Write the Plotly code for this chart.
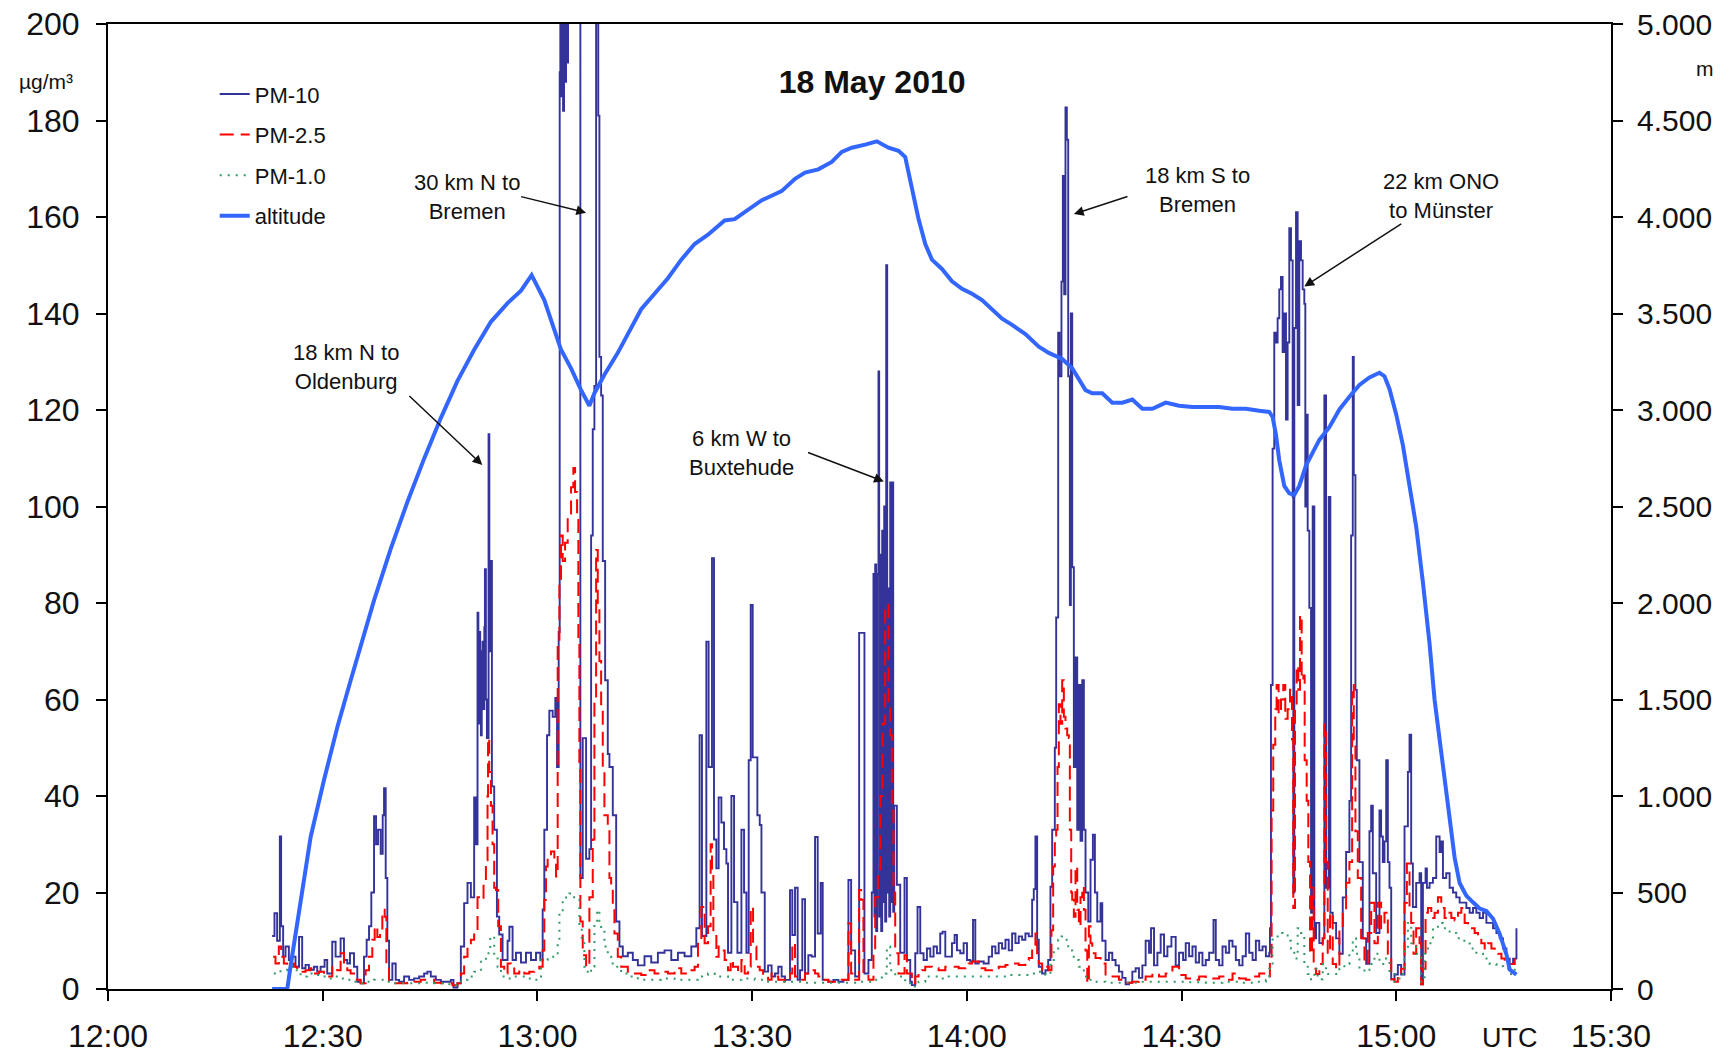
import numpy as np
import pandas as pd
import plotly.graph_objects as go

BASE = pd.Timestamp("2010-05-18 12:00:00")

# ---------------- data (minutes after 12:00 UTC, value) ----------------
pm10 = [
 (22.93, 11), (23.26, 15.7), (23.63, 10), (24.01, 31.6), (24.19, 13), (24.47, 6.7), (24.8, 8.8),
 (25.27, 6), (25.73, 6.7), (26.2, 4.6), (26.69, 10.8), (27.13, 4.3), (27.6, 5), (28.07, 4),
 (28.77, 4.6), (29.23, 3.6), (29.7, 4.6), (30.26, 6), (30.63, 3.2), (31.33, 9.8), (31.8, 6.7),
 (32.5, 10.5), (32.97, 6), (33.43, 5.3), (33.81, 7.4), (34.37, 4.6), (34.83, 1.5), (35.3, 1.2),
 (35.77, 6.7), (36.14, 10.2), (36.47, 13), (36.79, 20), (37.17, 35.8), (37.45, 30), (37.73, 33),
 (38.1, 28), (38.38, 36), (38.57, 41.6), (38.8, 23), (39.03, 10), (39.27, 1.9), (39.73, 5.3),
 (40.2, 1.9), (40.67, 1.5), (41.37, 2.6), (42.07, 1.9), (42.77, 2.2), (43.47, 2.6), (44.17, 3.2),
 (44.63, 3.6), (45.1, 2.6), (45.8, 1.9), (46.5, 1.5), (47.2, 1.5), (47.9, 1.9), (48.27, 0.3),
 (48.83, 1.2), (49.3, 8.8), (49.76, 17.8), (50.23, 22), (50.7, 19), (51.16, 39.7), (51.4, 30),
 (51.63, 78), (51.75, 55), (51.86, 74), (52.0, 60), (52.1, 52.6), (52.22, 70), (52.33, 72),
 (52.45, 58), (52.58, 75), (52.66, 87), (52.8, 60), (52.94, 52), (53.17, 115), (53.28, 70),
 (53.4, 88.7), (53.64, 42), (53.96, 33), (54.34, 15), (54.66, 11.3), (55.13, 6), (55.83, 10),
 (56.08, 12.9), (56.53, 6), (57.0, 7.5), (57.7, 5.5), (58.4, 7.5), (59.1, 6), (59.8, 7.5),
 (60.4, 6), (60.73, 16.5), (60.96, 33), (61.34, 52.6), (61.66, 57.7), (62.13, 56.4), (62.5, 60.3),
 (62.74, 46), (62.97, 74), (63.11, 190), (63.2, 210), (63.3, 185), (63.44, 205), (63.58, 182),
 (63.72, 200), (63.86, 188), (64.0, 215), (64.14, 192), (64.28, 210), (64.46, 230), (65.86, 230),
 (66.0, 23), (66.33, 52), (66.8, 27), (67.26, 29), (67.5, 94), (67.73, 116), (67.96, 125),
 (68.2, 230), (68.5, 181), (68.66, 131), (68.9, 123), (69.13, 88.7), (69.46, 64), (69.83, 48.7),
 (70.06, 46), (70.53, 36), (71.0, 14), (71.46, 8.8), (71.93, 6.8), (72.63, 7.5), (73.33, 6),
 (74.03, 4.9), (74.96, 6.8), (75.9, 5.5), (76.83, 7.5), (77.76, 8), (78.7, 6), (79.63, 7.5),
 (80.56, 6.8), (81.5, 8.8), (82.2, 12.6), (82.66, 52.6), (82.99, 11), (83.6, 72), (83.92, 46),
 (84.39, 89.3), (84.67, 31), (85.0, 25), (85.32, 39.7), (85.7, 34.5), (86.07, 29), (86.4, 26),
 (86.63, 7.5), (87.1, 40), (87.47, 18), (87.94, 7.5), (88.5, 33), (88.87, 20), (89.2, 7.5),
 (89.52, 47.4), (89.8, 79.6), (90.08, 48), (90.36, 48), (90.73, 36), (91.06, 34), (91.3, 20),
 (91.76, 3.6), (92.23, 4.9),
 (92.72, 2.6), (93.19, 3.2), (93.65, 4.6), (94.12, 2.6), (94.59, 1.9), (95.29, 20.5), (95.61, 11.2),
 (95.99, 21), (96.36, 1.9), (96.69, 3.9), (97.01, 18.6), (97.39, 3.2), (97.85, 7), (98.32, 6.7),
 (98.79, 31.5), (99.16, 11.5), (99.58, 22), (99.86, 1.9), (100.65, 1.5), (101.35, 1.9),
 (102.05, 1.5), (102.75, 1.9), (103.45, 22.6), (103.83, 8), (104.39, 2.6), (104.95, 73.8),
 (105.41, 73.8), (105.69, 3.2), (106.25, 6), (106.72, 20), (106.95, 86), (107.09, 15),
 (107.19, 88), (107.33, 12), (107.47, 86), (107.65, 128), (107.75, 15), (107.89, 90),
 (108.03, 12), (108.17, 95), (108.31, 18), (108.45, 100), (108.59, 14), (108.73, 150),
 (108.87, 20), (109.01, 83), (109.15, 15), (109.29, 105), (109.43, 18), (109.57, 105),
 (109.71, 16), (109.85, 38), (110.22, 21.6), (110.69, 7.5), (111.29, 23), (111.62, 6),
 (112.09, 1.5), (112.32, 0.8), (112.79, 7.4), (113.11, 17), (113.49, 7.4), (113.95, 6),
 (114.42, 8.4), (114.89, 6.7), (115.35, 8.8), (115.82, 7.4), (116.28, 11.5), (116.61, 11.9),
 (116.99, 6.7), (117.45, 6.7), (117.92, 9.5), (118.29, 11.2), (118.62, 8), (119.08, 7.4),
 (119.55, 9.5), (120.02, 6), (120.48, 5.7), (120.86, 14.3), (121.18, 5.3), (121.65, 5.7),
 (122.35, 5.3), (123.05, 6.7), (123.52, 8.8), (123.99, 7.4), (124.45, 9.5), (124.92, 8.4),
 (125.39, 10.2), (125.85, 8), (126.32, 11.5), (126.79, 9.5), (127.25, 10.9), (127.72, 10.2),
 (128.18, 11.5), (128.65, 10.9), (129.12, 18.5), (129.35, 20.7), (129.58, 31.6), (129.82, 10.2),
 (130.05, 4.6), (130.52, 3.2), (130.98, 3.9), (131.36, 6), (131.68, 21.2), (131.92, 33),
 (132.29, 50), (132.48, 77), (132.76, 136), (132.94, 127), (133.22, 146.6), (133.41, 168.5),
 (133.6, 144), (133.78, 182.7), (133.97, 176), (134.16, 127), (134.39, 79.6), (134.53, 140),
 (134.72, 87.4), (134.95, 46), (135.18, 68.7), (135.42, 33), (135.65, 63), (135.88, 30.7),
 (136.12, 64), (136.35, 33), (136.58, 20), (136.96, 14), (137.28, 26.8), (137.61, 32),
 (137.89, 20), (138.22, 14), (138.68, 17.8), (138.92, 10), (139.38, 6), (139.85, 7.5),
 (140.32, 6), (140.78, 4.9), (141.25, 3.6), (141.72, 2.3), (142.18, 1), (142.65, 1.3),
 (143.12, 3.6), (143.58, 4.3), (144.05, 2.3), (144.52, 4.9), (144.98, 10), (145.45, 7.5),
 (145.73, 12.6), (146.15, 4.9), (146.62, 7.5), (147.08, 11.3), (147.55, 6.8), (148.02, 8.8),
 (148.58, 10.8), (149.18, 4.9), (149.65, 7.5), (150.21, 6), (150.58, 9.5), (151.05, 6.8),
 (151.52, 8.8), (151.98, 5.5), (152.45, 7.5), (152.92, 4.9), (153.38, 6), (153.85, 7.5),
 (154.46, 14.3), (154.78, 6), (155.25, 4.9), (155.72, 8.8), (156.18, 7.5), (156.65, 10),
 (157.12, 8.8), (157.58, 6), (158.05, 4.9), (158.52, 6.8), (158.98, 11.5), (159.45, 7.5),
 (159.92, 6), (160.38, 10), (160.85, 8), (161.31, 8.8), (161.78, 6.8), (162.25, 7.5),
 (162.35, 12.6), (162.49, 63), (162.72, 112), (162.95, 136), (163.19, 134), (163.42, 139),
 (163.65, 145), (163.89, 147.6), (164.12, 132), (164.35, 140), (164.59, 118), (164.82, 134),
 (165.05, 157.7), (165.29, 151), (165.52, 102), (165.61, 20), (165.75, 137), (165.99, 161),
 (166.22, 121), (166.45, 155), (166.69, 151), (166.92, 145), (167.15, 142), (167.29, 100),
 (167.48, 119), (167.62, 95), (167.85, 79), (168.09, 15.8), (168.32, 100), (168.55, 10.5),
 (168.79, 13.7), (169.25, 9.5), (169.72, 10.5), (169.95, 123), (170.19, 21), (170.56, 102),
 (170.79, 15.8), (171.12, 13.7), (171.59, 10.5), (172.05, 7.3), (172.52, 19), (172.99, 28.4),
 (173.45, 39), (173.69, 94), (173.92, 131), (174.06, 106.5), (174.29, 62), (174.48, 47.4),
 (174.85, 26.3), (175.32, 10.5), (175.79, 5.2), (176.25, 32.7), (176.49, 38), (176.72, 24),
 (177.19, 11.6), (177.65, 37), (177.88, 31.6), (178.12, 26.3), (178.35, 30.6), (178.59, 47.4),
 (178.82, 26.3), (179.05, 21), (179.29, 2), (179.75, 3), (180.22, 5), (180.68, 3),
 (181.15, 33.7), (181.62, 45), (181.85, 52.7), (182.08, 26), (182.32, 17), (182.78, 22),
 (183.25, 24), (183.48, 1), (183.72, 22), (184.09, 25), (184.28, 21), (184.65, 22),
 (185.12, 23), (185.58, 31.6), (186.05, 28.4), (186.28, 30.6), (186.52, 23), (186.98, 24),
 (187.45, 21), (187.92, 20), (188.38, 19), (188.85, 17.9), (189.32, 17.9), (189.79, 16.8),
 (190.25, 15.8), (190.72, 16.8), (191.19, 15.8), (191.65, 14.7), (192.12, 15.8), (192.59, 13.7),
 (193.05, 13.7), (193.52, 12.6), (193.99, 11.6), (194.45, 10.5), (194.92, 8.4), (195.39, 6.3),
 (195.85, 5.2), (196.32, 6.3), (196.79, 12.6),
]

pm25 = [
 (23.07, 6.7), (23.4, 5.3), (23.87, 8.8), (24.19, 6.7), (24.57, 5.3), (25.03, 4.6), (25.5, 5.3),
 (25.97, 4.6), (26.43, 3.9), (26.9, 3.6), (27.6, 3.9), (28.3, 4.3), (28.77, 3.2), (29.47, 3.6),
 (30.17, 2.9), (30.63, 2.6), (31.33, 4.6), (32.03, 3.9), (32.5, 7.4), (32.97, 4.6), (33.43, 3.9),
 (33.9, 3.2), (34.6, 1.9), (35.3, 1.2), (36.0, 3.9), (36.47, 6.7), (36.93, 10.2), (37.26, 13),
 (37.63, 10.8), (38.01, 12.2), (38.33, 16.4), (38.66, 15), (38.89, 4.6), (39.27, 1.5),
 (39.97, 1.2), (40.9, 1.2), (41.83, 1.3), (42.77, 1.5), (43.7, 1.9), (44.63, 1.9), (45.57, 1.3),
 (46.5, 1.2), (47.43, 1.2), (48.13, 0.8), (48.83, 1.2), (49.3, 3.2), (49.76, 6.7), (50.23, 8.8),
 (50.7, 10.2), (51.16, 12.2), (51.63, 19), (52.1, 18.5), (52.47, 22), (52.8, 26.7), (53.03, 40),
 (53.1, 52), (53.26, 45), (53.5, 38), (53.73, 30), (53.96, 21), (54.2, 20.5), (54.52, 13),
 (54.9, 4.6), (55.36, 3.2), (55.83, 5.3), (56.3, 4.6), (56.76, 3.2), (57.46, 3.9), (58.16, 3.2),
 (58.86, 3.6), (59.56, 3.9), (60.26, 4.6), (60.73, 8), (60.96, 18.5), (61.2, 25.4), (61.43, 27.4),
 (61.9, 28.5), (62.36, 26), (62.6, 23.3), (62.83, 72), (63.07, 85), (63.3, 94), (63.53, 88.7),
 (63.86, 92.5), (64.23, 97.7), (64.7, 104), (65.02, 108), (65.26, 103), (65.54, 97.7),
 (65.72, 72), (65.86, 46), (66.0, 14), (66.33, 7), (66.8, 4.6), (67.26, 19), (67.73, 31),
 (67.96, 60), (68.2, 91), (68.43, 80), (68.66, 68), (68.9, 59), (69.13, 46), (69.36, 36),
 (69.83, 33), (70.06, 23), (70.3, 21.6), (70.53, 17), (70.76, 11.5), (71.23, 6.7), (71.7, 4.6),
 (72.63, 3.2), (73.56, 3.2), (74.5, 2.9), (75.43, 3.9), (76.36, 3.2), (77.3, 3.6), (78.23, 3.2),
 (79.16, 4.3), (80.1, 3.2), (81.03, 3.9), (81.96, 4.6), (82.43, 10.2), (82.9, 17), (83.36, 9.5),
 (83.83, 13), (84.2, 30), (84.39, 25), (84.58, 12.2), (85.0, 6.7), (85.32, 8.8), (85.7, 8),
 (86.16, 6), (86.63, 3.9), (87.0, 6), (87.33, 4.6), (88.03, 3.2), (88.5, 6), (88.96, 3.2),
 (89.43, 4.6), (89.8, 17), (90.13, 8.8), (90.6, 4.6), (91.06, 3.9), (91.53, 2.6), (92.23, 1.9),
 (92.72, 3.2), (93.19, 2.6), (93.65, 1.9), (94.59, 1.5), (95.29, 3.2), (95.61, 9.5), (95.99, 2.6),
 (96.69, 1.9), (97.39, 3.2), (97.85, 3.2), (98.32, 3.9), (98.79, 3.2), (99.25, 2.6), (99.72, 1.9),
 (100.65, 1.5), (101.59, 1.5), (102.52, 1.9), (103.45, 13.6), (103.83, 3.2), (104.39, 1.9),
 (104.95, 20.5), (105.23, 18.5), (105.55, 3.2), (106.25, 1.9), (106.95, 8), (107.19, 19),
 (107.56, 23.3), (107.89, 40), (108.21, 55), (108.59, 79.6), (108.82, 79.6), (109.05, 59),
 (109.29, 52.6), (109.52, 37), (109.75, 20), (109.99, 7.4), (110.45, 3.2), (111.29, 7),
 (111.62, 3.2), (112.32, 1.2), (112.79, 2.6), (113.25, 3.2), (113.72, 3.9), (114.19, 4.6),
 (115.12, 4.3), (116.05, 3.9), (116.99, 4.6), (117.92, 4.6), (118.85, 4.3), (119.79, 4.6),
 (120.25, 5.3), (120.72, 5.7), (121.65, 4.3), (122.58, 3.9), (123.52, 4.3), (124.45, 4.6),
 (125.39, 5), (126.32, 5.3), (127.25, 5), (128.18, 6), (128.65, 6.4), (129.12, 8.8),
 (129.58, 11.5), (129.82, 7.4), (130.05, 5.3), (130.52, 3.9), (130.98, 4.6), (131.45, 3.9),
 (131.82, 12.2), (132.06, 25.4), (132.29, 30.2), (132.48, 33), (132.67, 46), (132.85, 59),
 (133.08, 55), (133.32, 64), (133.55, 56.4), (133.78, 54), (134.02, 52.6), (134.25, 52),
 (134.39, 33), (134.58, 20), (134.72, 18.5), (134.95, 15), (135.18, 25.4), (135.42, 16.4),
 (135.65, 13), (135.88, 19), (136.12, 21.2), (136.35, 16.4), (136.58, 8), (136.82, 1.2),
 (137.05, 13), (137.28, 9.5), (137.52, 7.4), (137.98, 6.4), (138.68, 5.3), (139.38, 2.6),
 (140.32, 2.6), (141.25, 1.9), (142.18, 1.3), (143.12, 1.5), (144.05, 1.9), (144.98, 2.6),
 (145.92, 3.2), (146.85, 2.6), (147.78, 3.2), (148.72, 4.6), (149.65, 2.9), (150.58, 2.2),
 (151.52, 1.9), (152.45, 2.6), (153.38, 2.2), (154.32, 2.2), (155.25, 2.6), (156.18, 1.9),
 (157.12, 3.2), (158.05, 2.2), (158.98, 1.9), (159.92, 2.6), (160.85, 3.2), (161.78, 2.6),
 (162.34, 6.7), (162.58, 37), (162.81, 50.6), (163.09, 58), (163.28, 63), (163.56, 57),
 (163.89, 60), (164.21, 63), (164.49, 56), (164.82, 58), (165.15, 62), (165.43, 51.7),
 (165.61, 16.8), (165.85, 58), (166.08, 67), (166.31, 62), (166.55, 77.5), (166.78, 64),
 (167.01, 65), (167.2, 47.4), (167.48, 39), (167.71, 26.3), (167.95, 7.3), (168.23, 21),
 (168.46, 4.2), (168.79, 3.1), (169.25, 5.2), (169.72, 10.5), (169.95, 54.8), (170.19, 26.3),
 (170.42, 7.3), (170.75, 15.8), (171.12, 5.2), (171.59, 4.2), (172.05, 12.6), (172.52, 15.8),
 (172.99, 22), (173.45, 26.3), (173.83, 63), (174.06, 51.7), (174.29, 32.7), (174.62, 23),
 (175.09, 10.5), (175.55, 5.2), (176.02, 11.6), (176.49, 17.9), (176.95, 9.5), (177.42, 17.9),
 (177.88, 12.6), (178.35, 15.8), (178.82, 7.3), (179.29, 2), (179.75, 1.5), (180.22, 3.1),
 (180.68, 4.2), (181.15, 17.9), (181.48, 26), (181.85, 15.8), (182.08, 13.7), (182.41, 7.3),
 (182.78, 12.6), (183.25, 9.5), (183.48, 1), (183.72, 4.2), (184.09, 15.8), (184.42, 16.8),
 (184.89, 14.7), (185.35, 15.8), (185.82, 19), (186.28, 16.8), (186.75, 14.7), (187.22, 15.8),
 (187.69, 14.7), (188.15, 14.2), (188.62, 15.8), (189.09, 16.8), (189.55, 13.7), (190.02, 12.6),
 (190.48, 12.6), (190.95, 11.6), (191.42, 10.5), (191.88, 9.5), (192.35, 8.4), (192.82, 9.5),
 (193.29, 8.4), (193.75, 7.9), (194.22, 7.3), (194.69, 6.3), (195.15, 5.8), (195.62, 5.2),
 (196.09, 5.2), (196.55, 6.3),
]

pm10_fine = [  # PM-1.0
 (23.17, 3.2), (24.1, 3.9), (25.03, 4.6), (25.97, 3.9), (26.9, 2.6), (27.83, 3.2), (28.77, 2.9),
 (29.7, 2.6), (30.63, 2.2), (31.57, 2.6), (32.5, 2.2), (33.43, 1.9), (34.37, 1.5), (35.3, 1.2),
 (36.23, 1.5), (37.17, 1.9), (38.1, 1.9), (39.03, 1.5), (39.97, 1.2), (41.37, 1.2), (42.77, 1.2),
 (44.17, 1.3), (45.57, 1.2), (46.97, 1.0), (48.37, 0.8), (49.3, 1.9), (50.23, 2.6), (51.16, 3.6),
 (52.1, 6), (52.8, 7.4), (53.4, 10.9), (53.96, 6.7), (54.43, 4.6), (54.9, 2.6), (55.83, 2.2),
 (56.76, 2.6), (57.7, 2.6), (58.63, 2.2), (59.56, 1.9), (60.5, 6), (61.43, 6.7), (62.36, 6.7),
 (62.83, 9.5), (63.07, 15.7), (63.53, 18.5), (64.0, 19.5), (64.46, 19.8), (64.93, 19),
 (65.4, 18.5), (65.86, 13), (66.19, 9.5), (66.56, 4.6), (67.03, 3.2), (67.5, 4.6), (67.96, 13.6),
 (68.34, 16.4), (68.66, 13.6), (68.9, 12.2), (69.36, 8.8), (69.83, 6.7), (70.3, 5.3),
 (70.76, 4.6), (71.7, 3.2), (72.63, 2.6), (74.03, 1.9), (75.43, 1.9), (77.3, 2.2), (79.16, 1.9),
 (81.03, 1.9), (82.43, 2.6), (83.83, 3.2), (84.76, 2.6), (86.63, 1.9), (88.5, 2.2), (90.36, 1.9),
 (92.23, 1.5), (95.05, 1.5), (97.39, 1.3), (99.72, 1.3), (102.05, 1.3), (104.39, 1.5),
 (106.72, 1.9), (108.12, 3.2), (108.82, 8.8), (109.29, 3.9), (109.99, 2.6), (111.39, 1.2),
 (112.32, 0.5), (113.25, 1.5), (114.19, 2.6), (116.05, 2.2), (117.45, 2.6), (118.85, 2.6),
 (120.25, 2.6), (121.65, 2.6), (123.05, 2.6), (124.45, 2.6), (125.85, 2.9), (127.25, 2.9),
 (128.65, 3.2), (130.05, 3.6), (130.98, 2.9), (131.68, 6), (132.15, 8), (132.76, 10.2),
 (133.22, 10.9), (133.69, 10.2), (134.16, 8), (134.72, 6.7), (135.18, 6), (135.65, 4.6),
 (136.35, 2.6), (137.05, 1.9), (137.98, 1.5), (139.38, 1.3), (141.72, 1.3), (144.05, 1.5),
 (146.38, 1.5), (148.72, 1.5), (151.05, 1.4), (153.38, 1.3), (155.72, 1.5), (158.05, 1.3),
 (160.38, 1.5), (161.78, 1.9), (162.25, 4.2), (162.72, 10.5), (163.42, 11.6), (164.12, 11.1),
 (164.82, 10), (165.29, 8.4), (165.75, 6.3), (166.22, 12.6), (166.69, 11.6), (167.15, 5.2),
 (167.62, 3.1), (168.09, 2), (168.55, 4.2), (169.02, 2), (169.72, 5.2), (170.19, 3.1),
 (171.12, 3.1), (172.05, 4.2), (172.75, 5.2), (173.45, 7.3), (173.92, 10.5), (174.38, 7.3),
 (174.85, 4.2), (175.55, 3.6), (176.25, 5.2), (176.95, 7.3), (177.65, 5.2), (178.35, 6.3),
 (179.05, 3.1), (179.75, 1.5), (180.45, 3.1), (181.15, 8.4), (181.62, 13.7), (182.08, 9.5),
 (182.78, 7.3), (183.48, 1.5), (183.95, 7.3), (184.42, 9.5), (185.12, 12.6), (185.82, 13.7),
 (186.52, 12.6), (187.45, 11.6), (188.38, 10.5), (189.32, 10), (190.25, 8.4), (191.19, 7.3),
 (192.12, 6.3), (193.05, 5.2), (193.99, 4.7), (194.92, 4.2), (195.85, 3.1), (196.55, 4.2),
]

altitude = [  # metres
 (22.93, 0), (25.05, 0), (25.5, 116), (25.99, 237), (26.46, 357), (28.32, 789), (30.18, 1083),
 (32.06, 1359), (33.92, 1601), (35.78, 1843), (37.18, 2015), (39.5, 2281), (41.83, 2523),
 (44.17, 2748), (46.5, 2958), (48.83, 3151), (51.16, 3312), (53.5, 3457), (55.83, 3554),
 (57.7, 3618), (59.19, 3699), (60.96, 3570), (62.36, 3409), (63.3, 3312), (64.7, 3216),
 (66.1, 3103), (67.26, 3022), (67.96, 3087), (69.36, 3183), (71.23, 3296), (72.63, 3393),
 (74.5, 3522), (76.36, 3602), (78.23, 3683), (80.1, 3779), (81.96, 3860), (83.83, 3908),
 (86.16, 3982), (87.56, 3989), (89.43, 4037), (91.3, 4086), (92.72, 4110), (94.12, 4134),
 (95.99, 4198), (97.39, 4230), (99.25, 4247), (101.12, 4285), (102.52, 4337), (103.92, 4359),
 (105.79, 4375), (107.42, 4392), (109.05, 4359), (110.45, 4343), (111.39, 4311), (112.32, 4150),
 (113.25, 3989), (114.19, 3860), (115.12, 3779), (116.52, 3731), (117.92, 3667), (119.32, 3628),
 (120.72, 3602), (122.12, 3570), (123.52, 3522), (124.92, 3473), (126.32, 3441), (128.18, 3393),
 (130.05, 3328), (131.45, 3296), (133.32, 3264), (134.72, 3216), (136.58, 3103), (137.52, 3087),
 (138.92, 3087), (140.32, 3038), (141.72, 3038), (143.12, 3054), (144.52, 3006), (145.92, 3006),
 (147.78, 3038), (149.65, 3022), (151.52, 3016), (153.38, 3016), (155.25, 3016), (157.12, 3006),
 (158.98, 3006), (160.85, 2996), (162.25, 2990), (162.72, 2964), (163.19, 2871), (163.65, 2739),
 (164.35, 2607), (165.05, 2568), (165.75, 2560), (166.45, 2607), (167.39, 2713), (168.32, 2779),
 (169.25, 2845), (170.65, 2911), (172.05, 3003), (173.45, 3069), (174.85, 3130), (176.25, 3169),
 (177.65, 3193), (178.35, 3175), (179.05, 3109), (179.99, 2977), (180.92, 2818), (181.85, 2607),
 (182.78, 2396), (183.72, 2106), (184.65, 1789), (185.35, 1499), (186.05, 1288), (186.75, 1077),
 (187.45, 866), (188.15, 681), (188.85, 549), (189.79, 483), (190.72, 449), (191.65, 417),
 (192.59, 404), (193.52, 364), (194.45, 285), (195.39, 179), (195.85, 100), (196.79, 74),
]

x_tick_minutes = [0, 30, 60, 90, 120, 150, 180, 210]
x_tick_labels = ["12:00", "12:30", "13:00", "13:30", "14:00", "14:30", "15:00", "15:30"]
y_left_ticks = list(range(0, 201, 20))
y_right_ticks = list(range(0, 5001, 500))
y_right_labels = ["0", "500", "1.000", "1.500", "2.000", "2.500", "3.000",
                  "3.500", "4.000", "4.500", "5.000"]

# annotation labels: text, text position (min, µg/m³), arrow tip, arrow tail
labels = [
    ("18 km N to<br>Oldenburg", 33.2, 128.9, 52.3, 108.6, 41.9, 123.2),
    ("30 km N to<br>Bremen", 50.1, 164.2, 66.8, 160.9, 57.5, 164.3),
    ("6 km W to<br>Buxtehude", 88.5, 111.1, 108.4, 105.2, 97.6, 111.3),
    ("18 km S to<br>Bremen", 152.2, 165.5, 134.96, 160.6, 142.65, 164.35),
    ("22 km ONO<br>to Münster", 186.2, 164.4, 167.15, 145.6, 180.9, 158.8),
]


def t(m):
    return BASE + pd.to_timedelta(np.asarray(m, dtype=float), unit="min")


def ts(m):
    return (BASE + pd.Timedelta(minutes=float(m))).strftime("%Y-%m-%d %H:%M:%S.%f")


def split(pairs):
    a = np.array(pairs, dtype=float)
    return t(a[:, 0]), a[:, 1]


FONT = "Liberation Sans, Arial, sans-serif"
fig = go.Figure()

x, y = split(pm10)
fig.add_trace(go.Scatter(x=x, y=y, name="PM-10", mode="lines", line_shape="hv",
                         line=dict(color="#333399", width=1.9), legendgroup="a"))
x, y = split(pm25)
fig.add_trace(go.Scatter(x=x, y=y, name="PM-2.5", mode="lines", line_shape="hv",
                         line=dict(color="#FF0000", width=2, dash="14px,7px"), legendgroup="b"))
x, y = split(pm10_fine)
fig.add_trace(go.Scatter(x=x, y=y, name="PM-1.0", mode="lines", line_shape="hv",
                         line=dict(color="#339966", width=2, dash="2px,6px"), legendgroup="c"))
x, y = split(altitude)
fig.add_trace(go.Scatter(x=x, y=y, name="altitude", mode="lines", yaxis="y2",
                         line=dict(color="#3366FF", width=4), legendgroup="d"))

ann = []
for text, tx, ty, hx, hy, sx, sy in labels:
    ann.append(dict(x=ts(tx), y=ty, xref="x", yref="y", text=text, showarrow=False,
                    font=dict(size=22, color="#111111", family=FONT), align="center"))
    ann.append(dict(x=ts(hx), y=hy, xref="x", yref="y", ax=ts(sx), ay=sy,
                    axref="x", ayref="y", text="", showarrow=True, arrowhead=2,
                    arrowsize=1.3, arrowwidth=1.5, arrowcolor="#111111",
                    standoff=0, startstandoff=0))
ann.append(dict(x=-0.041, y=0.94, xref="paper", yref="paper", text="µg/m³",
                xanchor="center", yanchor="middle",
                showarrow=False, font=dict(size=21, color="#111111")))
ann.append(dict(x=1.0625, y=0.954, xref="paper", yref="paper", text="m",
                xanchor="center", yanchor="middle",
                showarrow=False, font=dict(size=21, color="#111111")))
ann.append(dict(x=0.933, y=-0.051, xref="paper", yref="paper", text="UTC",
                xanchor="center", yanchor="middle",
                showarrow=False, font=dict(size=27, color="#111111")))

fig.update_layout(
    width=1723, height=1055,
    margin=dict(l=108, r=112, t=24, b=66, pad=0, autoexpand=False),
    paper_bgcolor="white", plot_bgcolor="white",
    font=dict(family=FONT, size=32, color="#111111"),
    title=dict(text="18 May 2010", x=0.5084, xref="paper", y=0.94, yref="paper",
               xanchor="center", yanchor="middle", automargin=False,
               font=dict(size=32, family=FONT, color="#111111", weight="bold")),
    showlegend=True,
    legend=dict(x=0.071, y=0.949, xanchor="left", yanchor="top",
                font=dict(size=22, family=FONT, color="#111111"),
                bgcolor="rgba(0,0,0,0)", traceorder="grouped", tracegroupgap=9,
                itemwidth=30),
    annotations=ann,
    xaxis=dict(type="date", range=[t([0])[0], t([210])[0]], automargin=False,
               tickvals=list(t(x_tick_minutes)), ticktext=x_tick_labels,
               ticks="outside", ticklen=10, tickwidth=1.5, tickcolor="black",
               showline=True, linecolor="black", linewidth=2, mirror=True,
               showgrid=False, zeroline=False, tickfont=dict(size=32),
               ticklabelstandoff=8),
    yaxis=dict(range=[0, 200], tickvals=y_left_ticks, ticks="outside", ticklen=10,
               tickwidth=1.5, tickcolor="black", showline=True, linecolor="black",
               linewidth=2, showgrid=False, zeroline=False, tickfont=dict(size=32),
               ticklabelstandoff=10, automargin=False),
    yaxis2=dict(range=[0, 5000], overlaying="y", side="right", tickvals=y_right_ticks,
                ticktext=y_right_labels, ticks="outside", ticklen=10, tickwidth=1.5,
                tickcolor="black", showline=True, linecolor="black", linewidth=2,
                showgrid=False, zeroline=False, tickfont=dict(size=30),
                ticklabelstandoff=8, automargin=False),
)

fig.write_html("out.html")
